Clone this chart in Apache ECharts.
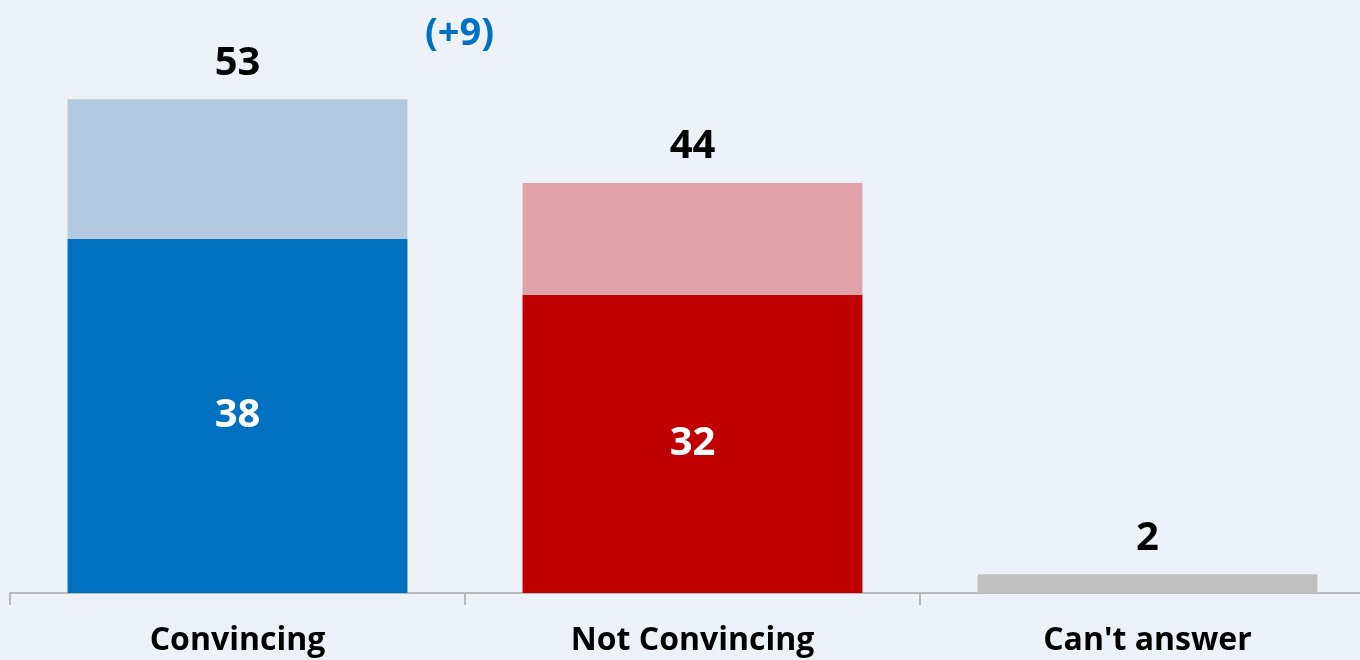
<!DOCTYPE html>
<html>
<head>
<meta charset="utf-8">
<script src="https://cdn.jsdelivr.net/npm/echarts@6/dist/echarts.min.js"></script>
<style>
  html, body { margin: 0; padding: 0; background: #EDF2F9; overflow: hidden; }
  /* wider than the window so the last category slot runs past the right edge */
  #chart { width: 1375px; height: 660px; }
</style>
</head>
<body>
<div id="chart"></div>
<script>
// Answer categories
const categories = ['Convincing', 'Not Convincing', "Can't answer"];
// Core share (darker segment)
const coreValues = [38, 32, 2];
// Additional share stacked on top (lighter segment)
const softValues = [15, 12, 0];
// Totals shown above each bar
const totalValues = [53, 44, 2];
// Change note beside the first total
const changeNote = '(+9)';

const coreColors = ['#0070C0', '#C00000', '#BFBFBF'];
const softColors = ['#B3C9E0', '#E0A3A8', '#BFBFBF'];

const FONT = '"Open Sans", "Liberation Sans", sans-serif';

const chart = echarts.init(document.getElementById('chart'));
chart.setOption({
  backgroundColor: '#EDF2F9',
  animation: false,
  grid: { left: 10, right: 0, top: 34, bottom: 67 },
  xAxis: {
    type: 'category',
    data: categories,
    axisLine: { show: true, lineStyle: { color: '#A6A6A6', width: 1.5 } },
    axisTick: { show: true, length: 12, lineStyle: { color: '#A6A6A6', width: 1.5 } },
    axisLabel: {
      color: '#000', fontFamily: FONT, fontWeight: 'bold', fontSize: 32, margin: 32
    }
  },
  yAxis: {
    type: 'value', min: 0, max: 60,
    show: false, splitLine: { show: false }
  },
  series: [
    {
      name: 'core',
      type: 'bar',
      stack: 'total',
      barCategoryGap: '25.3%',
      data: coreValues.map((v, i) => ({
        value: v,
        itemStyle: { color: coreColors[i] },
        label: { show: i < 2 }
      })),
      label: {
        position: 'inside', color: '#fff', fontFamily: FONT,
        fontWeight: 'bold', fontSize: 40
      }
    },
    {
      name: 'soft',
      type: 'bar',
      stack: 'total',
      data: softValues.map((v, i) => ({ value: v, itemStyle: { color: softColors[i] } })),
      label: {
        show: true, position: 'top', distance: 16, color: '#000',
        fontFamily: FONT, fontWeight: 'bold', fontSize: 40,
        formatter: p => String(totalValues[p.dataIndex])
      },
      markPoint: {
        symbol: 'circle', symbolSize: 0,
        data: [{ coord: [0, totalValues[0]], value: changeNote }],
        label: {
          show: true, formatter: changeNote, color: '#0070C0',
          fontFamily: FONT, fontWeight: 'bold', fontSize: 38,
          offset: [222, -65]
        }
      }
    }
  ]
});
</script>
</body>
</html>
